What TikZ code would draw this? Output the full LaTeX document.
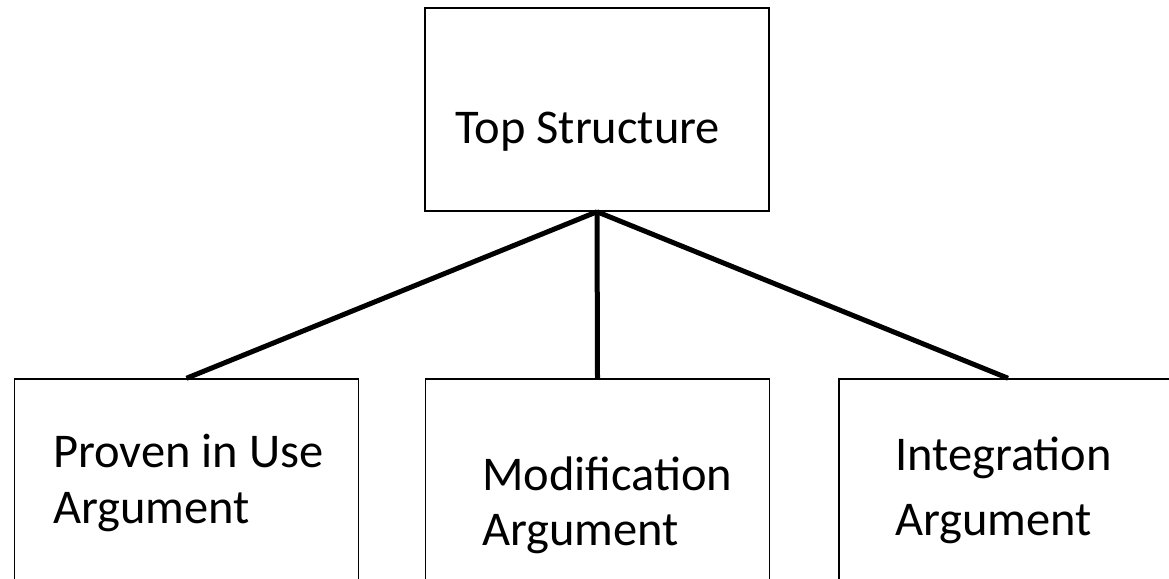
\documentclass[tikz,border=0pt]{standalone}
\usepackage{fontspec}
\setmainfont{Carlito}
\begin{document}
\begin{tikzpicture}[x=1pt,y=-1pt,
    box/.style={draw,line width=1.5pt,minimum width=344pt,minimum height=203pt,inner sep=0pt},
    lbl/.style={anchor=base west,align=left,inner sep=0pt}]
  \useasboundingbox (0,0) rectangle (1169,578);
  \clip (0,0) rectangle (1169,578);
  \draw
    (597,109.5) node[box] (top){}
    (186.5,499) node[box,minimum height=240pt] (prov){}
    (597.5,499) node[box,minimum height=240pt] (mod){}
    (1008,499) node[box,minimum width=338pt,minimum height=240pt] (integ){};
  \node[lbl,font=\fontsize{48.5}{56}\selectfont] (toptxt) at (455,143) {Top Structure};
  \node[lbl,font=\fontsize{48.5}{56}\selectfont] (provtxt) at (53,523) {Proven in Use\\Argument};
  \node[lbl,font=\fontsize{48.5}{55}\selectfont] (modtxt) at (482,545) {Modification\\Argument};
  \node[lbl,font=\fontsize{48.5}{65}\selectfont] (integtxt) at (895,535) {Integration\\Argument};
  \begin{scope}[line width=5pt]
    \draw (top.south) to (prov.north);
    \draw (top.south) to (mod.north);
    \draw (top.south) to (integ.north);
  \end{scope}
\end{tikzpicture}
\end{document}
